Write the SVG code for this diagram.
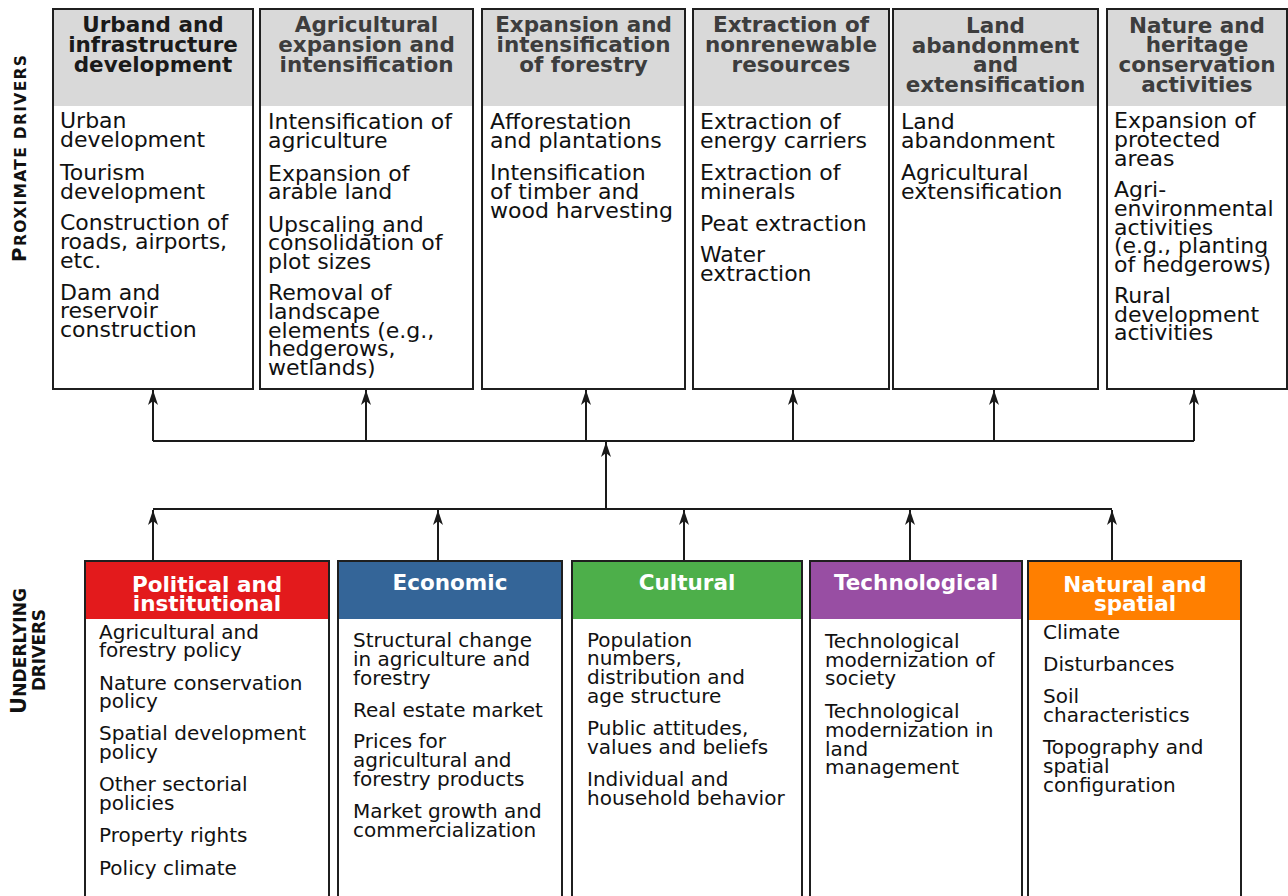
<svg xmlns="http://www.w3.org/2000/svg" width="1288" height="896" viewBox="0 0 1288 896">
<defs>
<style>
.box{fill:#fff;stroke:#1f1f1f;stroke-width:2}
.hdr{fill:#d9d9d9}
.ht{font-family:"DejaVu Sans",Verdana,sans-serif;font-weight:bold;font-size:21.5px;fill:#3d3d3d;text-anchor:middle}
.ht1{fill:#1a1a1a}
.bt{font-family:"DejaVu Sans",Verdana,sans-serif;font-size:22px;fill:#111}
.bt2{font-family:"DejaVu Sans",Verdana,sans-serif;font-size:20px;fill:#111}
.wt{font-family:"DejaVu Sans",Verdana,sans-serif;font-weight:bold;font-size:21.5px;fill:#fff;text-anchor:middle}
.side{font-family:"DejaVu Sans",Verdana,sans-serif;font-weight:bold;fill:#111}
.con{fill:none;stroke:#1a1a1a;stroke-width:2}
.arr{fill:none;stroke:#1a1a1a;stroke-width:2;marker-end:url(#ah)}
</style>
<marker id="ah" markerUnits="userSpaceOnUse" markerWidth="16" markerHeight="12" viewBox="-16 -6 16 12" refX="0" refY="0" orient="auto">
<path d="M0,0 L-15,-5 L-11,0 L-15,5 Z" fill="#1a1a1a"/>
</marker>
</defs>
<rect width="1288" height="896" fill="#fff"/>

<g id="label-proximate">
<text class="side" transform="translate(26,262) rotate(-90)" textLength="207" lengthAdjust="spacing"><tspan font-size="20">P</tspan><tspan font-size="15.5">ROXIMATE DRIVERS</tspan></text>
</g>
<g id="label-underlying">
<text class="side" transform="translate(26,714) rotate(-90)" textLength="126" lengthAdjust="spacing"><tspan font-size="21">U</tspan><tspan font-size="17">NDERLYING</tspan></text>
<text class="side" font-size="17" transform="translate(45,691) rotate(-90)" textLength="82" lengthAdjust="spacing">DRIVERS</text>
</g>

<g id="connectors">
<path class="con" d="M153,441 H1194"/>
<path class="arr" d="M153,441 V390"/>
<path class="arr" d="M366,441 V390"/>
<path class="arr" d="M586,441 V390"/>
<path class="arr" d="M793,441 V390"/>
<path class="arr" d="M994,441 V390"/>
<path class="arr" d="M1194,441 V390"/>
<path class="arr" d="M606,509 V442"/>
<path class="con" d="M153,509 H1112"/>
<path class="arr" d="M153,561 V510"/>
<path class="arr" d="M438,561 V510"/>
<path class="arr" d="M684,561 V510"/>
<path class="arr" d="M910,561 V510"/>
<path class="arr" d="M1112,561 V510"/>
</g>

<g id="p1">
<rect class="box" x="53" y="9" width="200" height="380"/>
<rect class="hdr" x="54" y="10" width="198" height="96"/>
<text class="ht ht1"><tspan x="153" y="32">Urband and</tspan><tspan x="153" y="52">infrastructure</tspan><tspan x="153" y="72">development</tspan></text>
<text class="bt"><tspan x="60" y="128">Urban</tspan><tspan x="60" y="147">development</tspan><tspan x="60" y="180">Tourism</tspan><tspan x="60" y="199">development</tspan><tspan x="60" y="230">Construction of</tspan><tspan x="60" y="249">roads, airports,</tspan><tspan x="60" y="268">etc.</tspan><tspan x="60" y="300">Dam and</tspan><tspan x="60" y="318">reservoir</tspan><tspan x="60" y="337">construction</tspan></text>
</g>

<g id="p2">
<rect class="box" x="260" y="9" width="213" height="380"/>
<rect class="hdr" x="261" y="10" width="211" height="96"/>
<text class="ht"><tspan x="366.5" y="32">Agricultural</tspan><tspan x="366.5" y="52">expansion and</tspan><tspan x="366.5" y="72">intensification</tspan></text>
<text class="bt"><tspan x="268" y="129">Intensification of</tspan><tspan x="268" y="148">agriculture</tspan><tspan x="268" y="181">Expansion of</tspan><tspan x="268" y="199">arable land</tspan><tspan x="268" y="232">Upscaling and</tspan><tspan x="268" y="250">consolidation of</tspan><tspan x="268" y="269">plot sizes</tspan><tspan x="268" y="300">Removal of</tspan><tspan x="268" y="319">landscape</tspan><tspan x="268" y="338">elements (e.g.,</tspan><tspan x="268" y="356">hedgerows,</tspan><tspan x="268" y="375">wetlands)</tspan></text>
</g>

<g id="p3">
<rect class="box" x="482" y="9" width="203" height="380"/>
<rect class="hdr" x="483" y="10" width="201" height="96"/>
<text class="ht"><tspan x="583.5" y="32">Expansion and</tspan><tspan x="583.5" y="52">intensification</tspan><tspan x="583.5" y="72">of forestry</tspan></text>
<text class="bt"><tspan x="490" y="129">Afforestation</tspan><tspan x="490" y="148">and plantations</tspan><tspan x="490" y="180">Intensification</tspan><tspan x="490" y="199">of timber and</tspan><tspan x="490" y="218">wood harvesting</tspan></text>
</g>

<g id="p4">
<rect class="box" x="693" y="9" width="196" height="380"/>
<rect class="hdr" x="694" y="10" width="194" height="96"/>
<text class="ht"><tspan x="791" y="32">Extraction of</tspan><tspan x="791" y="52">nonrenewable</tspan><tspan x="791" y="72">resources</tspan></text>
<text class="bt"><tspan x="700" y="129">Extraction of</tspan><tspan x="700" y="148">energy carriers</tspan><tspan x="700" y="180">Extraction of</tspan><tspan x="700" y="199">minerals</tspan><tspan x="700" y="231">Peat extraction</tspan><tspan x="700" y="262">Water</tspan><tspan x="700" y="281">extraction</tspan></text>
</g>

<g id="p5">
<rect class="box" x="893" y="9" width="205" height="380"/>
<rect class="hdr" x="894" y="10" width="203" height="96"/>
<text class="ht"><tspan x="995.5" y="33">Land</tspan><tspan x="995.5" y="53">abandonment</tspan><tspan x="995.5" y="72">and</tspan><tspan x="995.5" y="92">extensification</tspan></text>
<text class="bt"><tspan x="901" y="129">Land</tspan><tspan x="901" y="148">abandonment</tspan><tspan x="901" y="180">Agricultural</tspan><tspan x="901" y="199">extensification</tspan></text>
</g>

<g id="p6">
<rect class="box" x="1107" y="9" width="180" height="380"/>
<rect class="hdr" x="1108" y="10" width="178" height="96"/>
<text class="ht"><tspan x="1197" y="33">Nature and</tspan><tspan x="1197" y="52">heritage</tspan><tspan x="1197" y="72">conservation</tspan><tspan x="1197" y="92">activities</tspan></text>
<text class="bt"><tspan x="1114" y="128">Expansion of</tspan><tspan x="1114" y="147">protected</tspan><tspan x="1114" y="166">areas</tspan><tspan x="1114" y="197">Agri-</tspan><tspan x="1114" y="216">environmental</tspan><tspan x="1114" y="235">activities</tspan><tspan x="1114" y="253">(e.g., planting</tspan><tspan x="1114" y="272">of hedgerows)</tspan><tspan x="1114" y="303">Rural</tspan><tspan x="1114" y="322">development</tspan><tspan x="1114" y="340">activities</tspan></text>
</g>

<g id="u1">
<rect class="box" x="85" y="561" width="244" height="345" stroke-width="2.5"/>
<rect x="86" y="562" width="242" height="57" fill="#e31a1c"/>
<text class="wt"><tspan x="207" y="592">Political and</tspan><tspan x="207" y="611">institutional</tspan></text>
<text class="bt2"><tspan x="99" y="639">Agricultural and</tspan><tspan x="99" y="657">forestry policy</tspan><tspan x="99" y="690">Nature conservation</tspan><tspan x="99" y="708">policy</tspan><tspan x="99" y="740">Spatial development</tspan><tspan x="99" y="759">policy</tspan><tspan x="99" y="791">Other sectorial</tspan><tspan x="99" y="810">policies</tspan><tspan x="99" y="842">Property rights</tspan><tspan x="99" y="875">Policy climate</tspan></text>
</g>

<g id="u2">
<rect class="box" x="338" y="561" width="224" height="345" stroke-width="2.5"/>
<rect x="339" y="562" width="222" height="57" fill="#346598"/>
<text class="wt"><tspan x="450" y="590">Economic</tspan></text>
<text class="bt2"><tspan x="353" y="647">Structural change</tspan><tspan x="353" y="666">in agriculture and</tspan><tspan x="353" y="685">forestry</tspan><tspan x="353" y="717">Real estate market</tspan><tspan x="353" y="748">Prices for</tspan><tspan x="353" y="767">agricultural and</tspan><tspan x="353" y="786">forestry products</tspan><tspan x="353" y="818">Market growth and</tspan><tspan x="353" y="837">commercialization</tspan></text>
</g>

<g id="u3">
<rect class="box" x="572" y="561" width="230" height="345" stroke-width="2.5"/>
<rect x="573" y="562" width="228" height="57" fill="#4daf4a"/>
<text class="wt"><tspan x="687" y="590">Cultural</tspan></text>
<text class="bt2"><tspan x="587" y="647">Population</tspan><tspan x="587" y="665">numbers,</tspan><tspan x="587" y="684">distribution and</tspan><tspan x="587" y="703">age structure</tspan><tspan x="587" y="735">Public attitudes,</tspan><tspan x="587" y="754">values and beliefs</tspan><tspan x="587" y="786">Individual and</tspan><tspan x="587" y="805">household behavior</tspan></text>
</g>

<g id="u4">
<rect class="box" x="810" y="561" width="212" height="345" stroke-width="2.5"/>
<rect x="811" y="562" width="210" height="57" fill="#984ea3"/>
<text class="wt"><tspan x="916" y="590">Technological</tspan></text>
<text class="bt2"><tspan x="825" y="648">Technological</tspan><tspan x="825" y="667">modernization of</tspan><tspan x="825" y="685">society</tspan><tspan x="825" y="718">Technological</tspan><tspan x="825" y="737">modernization in</tspan><tspan x="825" y="756">land</tspan><tspan x="825" y="774">management</tspan></text>
</g>

<g id="u5">
<rect class="box" x="1028" y="561" width="213" height="345" stroke-width="2.5"/>
<rect x="1029" y="562" width="211" height="58" fill="#ff7f00"/>
<text class="wt"><tspan x="1135" y="592">Natural and</tspan><tspan x="1135" y="611">spatial</tspan></text>
<text class="bt2"><tspan x="1043" y="639">Climate</tspan><tspan x="1043" y="671">Disturbances</tspan><tspan x="1043" y="703">Soil</tspan><tspan x="1043" y="722">characteristics</tspan><tspan x="1043" y="754">Topography and</tspan><tspan x="1043" y="773">spatial</tspan><tspan x="1043" y="792">configuration</tspan></text>
</g>
</svg>
